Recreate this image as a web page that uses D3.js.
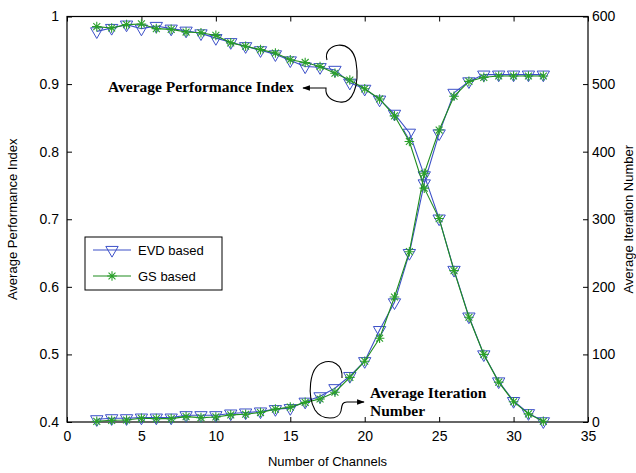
<!DOCTYPE html>
<html>
<head>
<meta charset="utf-8">
<script src="https://cdn.jsdelivr.net/npm/d3@7"></script>
<style>
body { margin: 0; background: #fff; }
text { font-family: "Liberation Sans", Arial, sans-serif; }
.anno { font-family: "Liberation Serif", "Times New Roman", serif; font-weight: bold; font-size: 15.5px; }
</style>
</head>
<body>
<div id="chart"></div>
<script>
// data
var channels = [2,3,4,5,6,7,8,9,10,11,12,13,14,15,16,17,18,19,20,21,22,23,24,25,26,27,28,29,30,31,32];
var perfEVD = [0.978,0.983,0.988,0.982,0.986,0.982,0.979,0.975,0.968,0.962,0.956,0.950,0.944,0.935,0.926,0.925,0.921,0.902,0.893,0.877,0.856,0.828,0.765,0.701,0.625,0.556,0.500,0.460,0.431,0.413,0.401];
var perfGS  = [0.985,0.983,0.988,0.989,0.982,0.981,0.977,0.976,0.972,0.961,0.956,0.951,0.946,0.936,0.932,0.926,0.916,0.906,0.893,0.878,0.853,0.815,0.746,0.701,0.624,0.555,0.500,0.459,0.430,0.412,0.401];
var iterEVD = [4,5.5,5.5,6.5,6.5,6.5,10,10,10,12.5,14,15.5,19,20.5,30,38,50,68,90,136,177,250,353,427,487,504,514,514,514,514,514];
var iterGS  = [1,2.5,3,5.5,5,5,8,6.5,7.5,10.5,11.5,14,19,22,29,34,44,66,90,124,185,252,368,432,482,504,510,512,512,512,512];
var xTicks = [0,5,10,15,20,25,30,35];
var yLeftTicks = [0.4,0.5,0.6,0.7,0.8,0.9,1];
var yRightTicks = [0,100,200,300,400,500,600];
var seriesNames = ["EVD based", "GS based"];

var blue = "#3c50c8", green = "#1e8c1e", greenMark = "#2aa02a";

// set the dimensions and margins of the graph
var margin = {top: 16.5, right: 48, bottom: 51, left: 67},
width = 636 - margin.left - margin.right,
height = 473 - margin.top - margin.bottom;

var svg = d3.select("#chart")
.append("svg")
.attr("width", 636)
.attr("height", 473)
.append("g")
.attr("transform", "translate(" + margin.left + "," + margin.top + ")");

var x = d3.scaleLinear().domain([0, 35]).range([0, width]);
var yL = d3.scaleLinear().domain([0.4, 1]).range([height, 0]);
var yR = d3.scaleLinear().domain([0, 600]).range([height, 0]);

// axes, ticks pointing inward
function styleAxis(g) {
    g.select(".domain").remove();
    g.selectAll("line").attr("stroke", "#000");
    g.selectAll("text").attr("fill", "#000").style("font-size", "14px");
}
svg.append("g")
.attr("transform", "translate(0," + height + ")")
.call(d3.axisBottom(x).tickValues(xTicks).tickSize(-5).tickPadding(9))
.call(styleAxis);
svg.append("g")
.call(d3.axisTop(x).tickValues(xTicks).tickSize(-5).tickFormat(""))
.call(styleAxis);
svg.append("g")
.call(d3.axisLeft(yL).tickValues(yLeftTicks).tickSize(-5).tickPadding(8).tickFormat(d3.format("~g")))
.call(styleAxis);
svg.append("g")
.attr("transform", "translate(" + width + ",0)")
.call(d3.axisRight(yR).tickValues(yRightTicks).tickSize(-5).tickPadding(4))
.call(styleAxis);

// box
svg.append("rect")
.attr("width", width).attr("height", height)
.attr("fill", "none").attr("stroke", "#000").attr("stroke-width", 1.2);

// axis titles
svg.append("text")
.attr("x", width / 2).attr("y", height + 44)
.attr("text-anchor", "middle").style("font-size", "13px")
.text("Number of Channels");
svg.append("text")
.attr("transform", "rotate(-90)")
.attr("x", -height / 2).attr("y", -50)
.attr("text-anchor", "middle").style("font-size", "13px")
.text("Average Performance Index");
svg.append("text")
.attr("transform", "rotate(-90)")
.attr("x", -height / 2).attr("y", width + 45)
.attr("text-anchor", "middle").style("font-size", "13px")
.text("Average Iteration Number");

// markers
var tri = d3.symbol().type(d3.symbolTriangle).size(66);
function triDown(g, px, py) {
    g.append("path").attr("d", tri)
    .attr("transform", "translate(" + px + "," + py + ") rotate(180)")
    .attr("fill", "none").attr("stroke", blue).attr("stroke-width", 1);
}
function star(g, px, py) {
    var r = 4.8, d = r * 0.72;
    g.append("path")
    .attr("d", "M" + (px - r) + "," + py + "h" + (2 * r) + "M" + px + "," + (py - r) + "v" + (2 * r) +
        "M" + (px - d) + "," + (py - d) + "l" + (2 * d) + "," + (2 * d) + "M" + (px - d) + "," + (py + d) + "l" + (2 * d) + "," + (-2 * d))
    .attr("stroke", greenMark).attr("stroke-width", 1.1).attr("fill", "none");
}

function drawSeries(vals, yScale, color, marker) {
    var pts = channels.map(function(c, i) { return [x(c), yScale(vals[i])]; });
    svg.append("path")
    .attr("d", d3.line()(pts))
    .attr("fill", "none").attr("stroke", color).attr("stroke-width", 1.1);
    var g = svg.append("g");
    pts.forEach(function(p) { marker(g, p[0], p[1]); });
}

drawSeries(perfEVD, yL, blue, triDown);
drawSeries(iterEVD, yR, blue, triDown);
drawSeries(perfGS, yL, green, star);
drawSeries(iterGS, yR, green, star);

// legend
var lg = svg.append("g").attr("transform", "translate(" + (85 - margin.left) + "," + (237 - margin.top) + ")");
lg.append("rect").attr("width", 137).attr("height", 53)
.attr("fill", "#fff").attr("stroke", "#000").attr("stroke-width", 1);
[[blue, triDown], [green, star]].forEach(function(s, i) {
    var ly = 13 + i * 26;
    lg.append("line").attr("x1", 8).attr("x2", 46).attr("y1", ly).attr("y2", ly)
    .attr("stroke", s[0]).attr("stroke-width", 1.1);
    s[1](lg, 27, ly);
    lg.append("text").attr("x", 53).attr("y", ly + 5).style("font-size", "13px").text(seriesNames[i]);
});

// annotations
var defs = svg.append("defs");
defs.append("marker").attr("id", "arrow")
.attr("viewBox", "0 0 10 10").attr("refX", 9).attr("refY", 5)
.attr("markerWidth", 7).attr("markerHeight", 7).attr("orient", "auto")
.append("path").attr("d", "M0,1.5 L10,5 L0,8.5 z").attr("fill", "#000");

var ann = svg.append("g").attr("transform", "translate(" + (-margin.left) + "," + (-margin.top) + ")");
ann.append("path")
.attr("d", "M327,60 C322,44 352,36 356,62 C360,86 352,104 340,102 C331,101 325,96 326,88 L303,88")
.attr("fill", "none").attr("stroke", "#000").attr("stroke-width", 1.1)
.attr("marker-end", "url(#arrow)");
ann.append("text").attr("class", "anno").attr("x", 108).attr("y", 92).text("Average Performance Index");

ann.append("path")
.attr("d", "M342,378 C343,364 332,359 322,363 C309,368 307,396 315,410 C322,421 339,420 341,411 C342,405 342,402 347,402 L364,402")
.attr("fill", "none").attr("stroke", "#000").attr("stroke-width", 1.1)
.attr("marker-end", "url(#arrow)");
ann.append("text").attr("class", "anno").attr("x", 370).attr("y", 398).text("Average Iteration");
ann.append("text").attr("class", "anno").attr("x", 370).attr("y", 416).text("Number");
</script>
</body>
</html>
